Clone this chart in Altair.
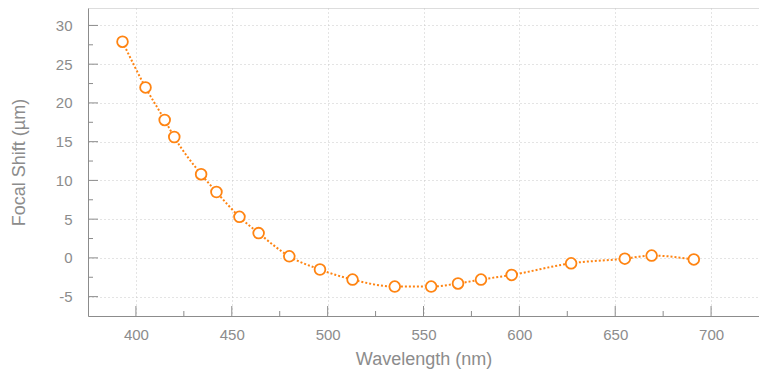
import altair as alt
import pandas as pd

wavelength = [393, 405, 415, 420, 434, 442, 454, 464, 480, 496, 513, 535, 554, 568, 580, 596, 627, 655, 669, 691]
focal_shift = [27.9, 22.0, 17.8, 15.6, 10.8, 8.5, 5.3, 3.2, 0.2, -1.5, -2.8, -3.7, -3.7, -3.3, -2.8, -2.2, -0.7, -0.1, 0.3, -0.2]

x_major = [400, 450, 500, 550, 600, 650, 700]
x_minor = [425, 475, 525, 575, 625, 675]
y_major = [-5, 0, 5, 10, 15, 20, 25, 30]
y_minor = [-2.5, 2.5, 7.5, 12.5, 17.5, 22.5, 27.5]

W, H = 671, 308
ORANGE = "#ff8412"
GRAY = "#8c8c8c"
FONT = "Liberation Sans"

df = pd.DataFrame({"w": wavelength, "f": focal_shift})
xs = alt.Scale(domain=[375, 725], nice=False, zero=False)
ys = alt.Scale(domain=[-7.5, 32.25], nice=False, zero=False)

xaxis = alt.Axis(values=x_major, title="Wavelength (nm)", ticks=False, labelPadding=11,
                 grid=True, gridDash=[1, 3], gridColor="#c8c8c8", domainColor=GRAY,
                 labelColor=GRAY, titleColor=GRAY, labelFontSize=15, titleFontSize=18,
                 labelFont=FONT, titleFont=FONT, titleFontWeight="normal", titlePadding=8)
yaxis = alt.Axis(values=y_major, title="Focal Shift (µm)", ticks=False, labelPadding=16,
                 labelExpr="'' + datum.value",
                 grid=True, gridDash=[1, 3], gridColor="#c8c8c8", domainColor=GRAY,
                 labelColor=GRAY, titleColor=GRAY, labelFontSize=15, titleFontSize=18,
                 labelFont=FONT, titleFont=FONT, titleFontWeight="normal", titlePadding=27)

line = alt.Chart(df).mark_line(color=ORANGE, strokeDash=[2, 2], strokeWidth=2, interpolate="monotone").encode(
    x=alt.X("w:Q", scale=xs, axis=xaxis),
    y=alt.Y("f:Q", scale=ys, axis=yaxis),
)
points = alt.Chart(df).mark_point(shape="circle", filled=True, fill="white", stroke=ORANGE,
                                  strokeWidth=1.8, size=115, opacity=1).encode(
    x=alt.X("w:Q", scale=xs), y=alt.Y("f:Q", scale=ys))

def yticks(vals, length):
    return alt.Chart(pd.DataFrame({"v": vals})).mark_rule(color=GRAY, strokeWidth=1).encode(
        y=alt.Y("v:Q", scale=ys), x=alt.value(0), x2=alt.value(length))

def xticks(vals, length):
    return alt.Chart(pd.DataFrame({"v": vals})).mark_rule(color=GRAY, strokeWidth=1).encode(
        x=alt.X("v:Q", scale=xs), y=alt.value(H), y2=alt.value(H - length))

chart = alt.layer(
    yticks(y_major, 10), yticks(y_minor, 5), xticks(x_major, 10), xticks(x_minor, 5),
    line, points,
).properties(
    width=W, height=H,
    autosize=alt.AutoSizeParams(type="none"),
    padding={"left": 80, "top": 0, "right": 0, "bottom": 55},
).configure_view(stroke="#e2e2e2", strokeWidth=1.5).configure(background="white")

chart.save("out.html", embed_options={"renderer": "svg", "actions": False})
